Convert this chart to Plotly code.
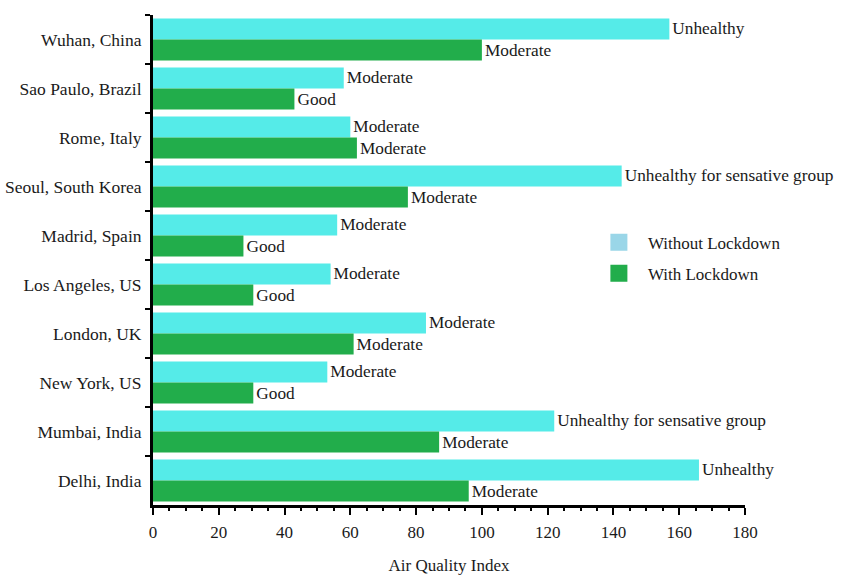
import plotly.graph_objects as go

cities = ["Wuhan, China", "Sao Paulo, Brazil", "Rome, Italy", "Seoul, South Korea",
          "Madrid, Spain", "Los Angeles, US", "London, UK", "New York, US",
          "Mumbai, India", "Delhi, India"]
without_lockdown = [157, 58, 60, 142.5, 56, 54, 83, 53, 122, 166]
with_lockdown = [100, 43, 62, 77.5, 27.5, 30.5, 61, 30.5, 87, 96]
without_labels = ["Unhealthy", "Moderate", "Moderate", "Unhealthy for sensative group",
                  "Moderate", "Moderate", "Moderate", "Moderate",
                  "Unhealthy for sensative group", "Unhealthy"]
with_labels = ["Moderate", "Good", "Moderate", "Moderate", "Good", "Good",
               "Moderate", "Good", "Moderate", "Moderate"]
x_ticks = [0, 20, 40, 60, 80, 100, 120, 140, 160, 180]

CYAN = "#55EBE8"
GREEN = "#22AD4B"
LEGEND_BLUE = "#9AD6E8"
FONT = "Liberation Serif"
TXT = "#1a1a1a"

fig = go.Figure()
fig.add_trace(go.Bar(
    y=cities, x=without_lockdown, orientation="h", name="Without Lockdown",
    marker=dict(color=CYAN, line=dict(width=0)), text=without_labels,
    textposition="outside", constraintext="none",
    textfont=dict(family=FONT, size=17.3, color=TXT),
    cliponaxis=False, showlegend=False))
fig.add_trace(go.Bar(
    y=cities, x=with_lockdown, orientation="h", name="With Lockdown",
    marker=dict(color=GREEN, line=dict(width=0)), text=with_labels,
    textposition="outside", constraintext="none",
    textfont=dict(family=FONT, size=17.3, color=TXT),
    cliponaxis=False, showlegend=False))
# legend entries on a hidden axis pair so they take no slot in the groups
fig.add_trace(go.Bar(y=[None], x=[None], orientation="h", name="Without Lockdown",
                     xaxis="x2", yaxis="y2", legendgroup="a",
                     marker=dict(color=LEGEND_BLUE, line=dict(color=LEGEND_BLUE, width=5))))
fig.add_trace(go.Bar(y=[None], x=[None], orientation="h", name="With Lockdown",
                     xaxis="x2", yaxis="y2", legendgroup="b",
                     marker=dict(color=GREEN, line=dict(color=GREEN, width=5))))

fig.update_layout(
    width=841, height=575,
    margin=dict(l=153, r=96, t=15, b=70),
    barmode="group", bargap=0.14, bargroupgap=0,
    plot_bgcolor="white", paper_bgcolor="white",
    font=dict(family=FONT, size=17, color=TXT),
    legend=dict(x=0.738, y=0.572, xanchor="left", yanchor="top",
                font=dict(family=FONT, size=17, color=TXT),
                bgcolor="rgba(0,0,0,0)", itemwidth=48, tracegroupgap=6),
    xaxis=dict(range=[0, 180], tickvals=x_ticks, showgrid=False, zeroline=False,
               showline=True, linecolor="black", linewidth=3, automargin=False,
               ticks="outside", ticklen=7, tickwidth=2, tickcolor="black",
               ticklabelstandoff=3,
               minor=dict(dtick=5, ticks="outside", ticklen=3, tickwidth=1.5, tickcolor="black"),
               tickfont=dict(family=FONT, size=17, color=TXT),
               title=dict(text="Air Quality Index", font=dict(family=FONT, size=17, color=TXT),
                          standoff=22)),
    yaxis=dict(autorange="reversed", showgrid=False, zeroline=False, automargin=False,
               showline=True, linecolor="black", linewidth=3,
               ticks="outside", tickson="boundaries", ticklen=5, tickwidth=2, tickcolor="black",
               ticklabelstandoff=5,
               tickfont=dict(family=FONT, size=17.5, color=TXT)),
    xaxis2=dict(visible=False, overlaying="x", range=[0, 1]),
    yaxis2=dict(visible=False, overlaying="y", range=[0, 1]),
)

fig.write_html("out.html", config={"displayModeBar": False},
               post_script="document.body.style.margin='0';")
